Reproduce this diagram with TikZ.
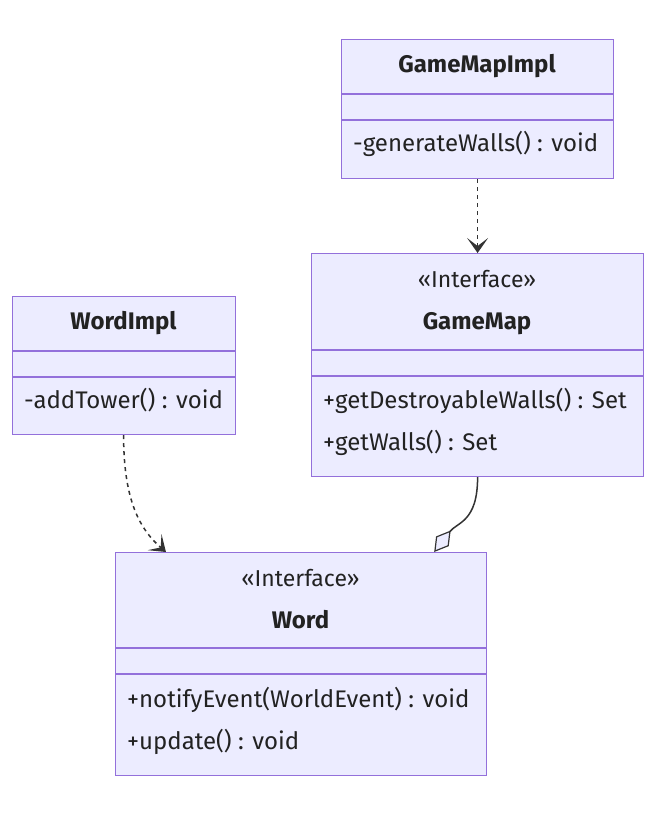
\documentclass[tikz,border=0pt]{standalone}
\usepackage{fontspec}
\setmainfont{Fira Sans}
\usetikzlibrary{arrows.meta}
\definecolor{boxfill}{HTML}{ECECFF}
\definecolor{boxline}{HTML}{9370DB}
\definecolor{txt}{HTML}{222222}
\definecolor{lnk}{HTML}{333333}
\tikzset{
  box/.style={draw=boxline, fill=boxfill, line width=1.2pt, inner sep=0pt, anchor=north west},
  div/.style={draw=boxline, line width=1.2pt},
  ttl/.style={font=\fontsize{24}{28}\selectfont\bfseries, text=txt, anchor=mid, inner sep=0pt},
  ster/.style={font=\fontsize{23}{28}\selectfont, text=txt, anchor=mid, inner sep=0pt},
  meth/.style={font=\fontsize{24}{28}\selectfont, text=txt, anchor=mid west, inner sep=0pt},
  dep/.style={draw=lnk, line width=1.5pt, dash pattern=on 4pt off 4pt, -{Stealth[length=15pt, width=21pt, inset=8pt]}},
  agg/.style={draw=lnk, line width=1.5pt, -{Diamond[length=27pt, width=16pt, fill=boxfill, line width=1.2pt]}}
}
\begin{document}
\begin{tikzpicture}[x=1pt, y=-1pt]
\useasboundingbox (0,0) rectangle (655,815);
% GameMapImpl
\node[box, minimum width=272pt, minimum height=139pt] (gmi) at (341,39) {};
\draw[div] (341,94) -- (613,94) (341,120) -- (613,120);
\node[ttl] (gmit) at (477,70) {GameMapImpl};
\node[meth] (gmim) at (353,149) {-generateWalls() : void};
% GameMap
\node[box, minimum width=332pt, minimum height=223pt] (gm) at (311,253) {};
\draw[div] (311,350) -- (643,350) (311,376) -- (643,376);
\node[ster] (gms) at (477,285) {«Interface»};
\node[ttl] (gmt) at (477,327) {GameMap};
\node[meth] (gmm1) at (323,406) {+getDestroyableWalls() : Set};
\node[meth] (gmm2) at (323,448) {+getWalls() : Set};
% WordImpl
\node[box, minimum width=223pt, minimum height=138pt] (wi) at (12,296) {};
\draw[div] (12,351) -- (235,351) (12,377) -- (235,377);
\node[ttl] (wit) at (123.5,327) {WordImpl};
\node[meth] (wim) at (24,406) {-addTower() : void};
% Word
\node[box, minimum width=371pt, minimum height=223pt] (w) at (115,552) {};
\draw[div] (115,648) -- (486,648) (115,674) -- (486,674);
\node[ster] (ws) at (300.5,584) {«Interface»};
\node[ttl] (wt) at (300.5,626) {Word};
\node[meth] (wm1) at (127,705) {+notifyEvent(WorldEvent) : void};
\node[meth] (wm2) at (127,747) {+update() : void};
% connectors
\draw[dep] (gmi.south) -- (gm.north);
\draw[dep] ([xshift=-0.5pt]wi.south) .. controls ([xshift=-0.5pt,yshift=-60pt]wi.south) and ([xshift=22pt,yshift=25pt]w.north west) .. ([xshift=51pt]w.north west);
\draw[agg] (gm.south) .. controls ([yshift=-45pt]gm.south) and ([xshift=-30pt,yshift=30pt]w.north east) .. ([xshift=-53pt]w.north east);
\end{tikzpicture}
\end{document}
